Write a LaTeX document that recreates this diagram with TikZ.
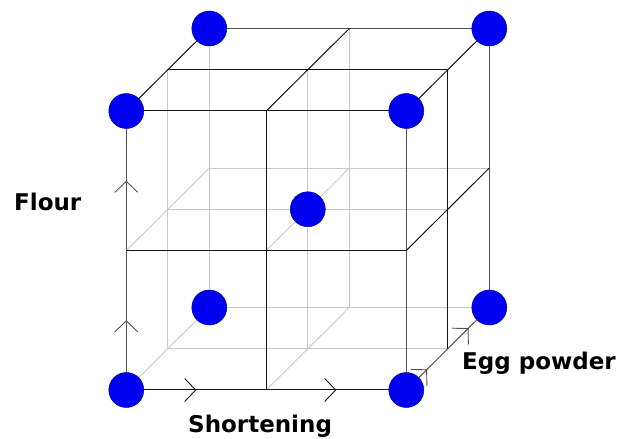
\documentclass[tikz,border=0pt]{standalone}
\usepackage{fontspec}
\setsansfont{DejaVu Sans}
\usetikzlibrary{arrows.meta,decorations.markings}
\definecolor{dotblue}{RGB}{0,0,240}
\definecolor{dotedge}{RGB}{0,0,150}
\definecolor{edgegray}{RGB}{80,80,80}
\definecolor{faintgray}{RGB}{200,200,200}
\definecolor{darkline}{RGB}{20,20,20}
\begin{document}
\begin{tikzpicture}[
  x={(280pt,0pt)}, y={(0pt,279pt)}, z={(83pt,82.5pt)},
  darkedge/.style={draw=darkline, line width=1pt},
  midedge/.style={draw=edgegray, line width=1pt},
  faintedge/.style={draw=faintgray, line width=0.9pt},
  axisarrows/.style={postaction={decorate}, decoration={markings,
     mark=at position 0.25 with {\arrow{Straight Barb[length=11pt,width=23pt,line width=0.9pt,color=#1]}},
     mark=at position 0.75 with {\arrow{Straight Barb[length=11pt,width=23pt,line width=0.9pt,color=#1]}}}},
  dot/.style={circle, fill=dotblue, draw=dotedge, line width=0.5pt, minimum size=35pt, inner sep=0pt},
  axislabel/.style={font=\sffamily\bfseries\fontsize{23}{27}\selectfont, inner sep=0pt, anchor=base west}
]
\useasboundingbox (0pt,0pt) rectangle (627pt,439pt);
\begin{scope}[shift={(126.3pt,49pt)}]
  \foreach \i in {0,1,2}{
    \foreach \j in {0,1,2}{
      \foreach \k in {0,1,2}{
        \coordinate (p\i\j\k) at (\i/2,\j/2,\k/2);
      }
    }
  }
  % faint interior / hidden lines
  \draw[faintedge] (p011) -- (p211);
  \draw[faintedge] (p001) -- (p201);
  \draw[faintedge] (p012) -- (p212);
  \draw[faintedge] (p002) -- (p202);
  \draw[faintedge] (p101) -- (p121);
  \draw[faintedge] (p001) -- (p021);
  \draw[faintedge] (p102) -- (p122);
  \draw[faintedge] (p002) -- (p022);
  \draw[faintedge] (p000) -- (p002);
  \draw[faintedge] (p100) -- (p102);
  \draw[faintedge] (p010) -- (p012);
  \draw[faintedge] (p110) -- (p112);
  % visible lines
  \draw[midedge] (p022) -- (p222);
  \draw[midedge] (p200) -- (p220);
  \draw[midedge] (p202) -- (p222);
  \draw[darkedge] (p010) -- (p210);
  \draw[darkedge] (p020) -- (p220);
  \draw[darkedge] (p021) -- (p221);
  \draw[darkedge] (p100) -- (p120);
  \draw[darkedge] (p201) -- (p221);
  \draw[darkedge] (p020) -- (p022);
  \draw[darkedge] (p120) -- (p122);
  \draw[darkedge] (p220) -- (p222);
  \draw[darkedge] (p210) -- (p212);
  % axes with arrow marks
  \draw[darkedge, axisarrows=darkline] (p000) -- (p200);
  \draw[midedge, axisarrows=edgegray] (p000) -- (p020);
  \draw[midedge, axisarrows=edgegray] (p200) -- (p202);
  % design points
  \foreach \n in {000,200,020,220,002,202,022,222,111}{
    \node[dot] (d\n) at (p\n) {};
  }
\end{scope}
\node[axislabel] (flour) at (14pt,228.3pt) {Flour};
\node[axislabel] (shortening) at (188pt,6pt) {Shortening};
\node[axislabel] (egg) at (462pt,69pt) {Egg powder};
\end{tikzpicture}
\end{document}
